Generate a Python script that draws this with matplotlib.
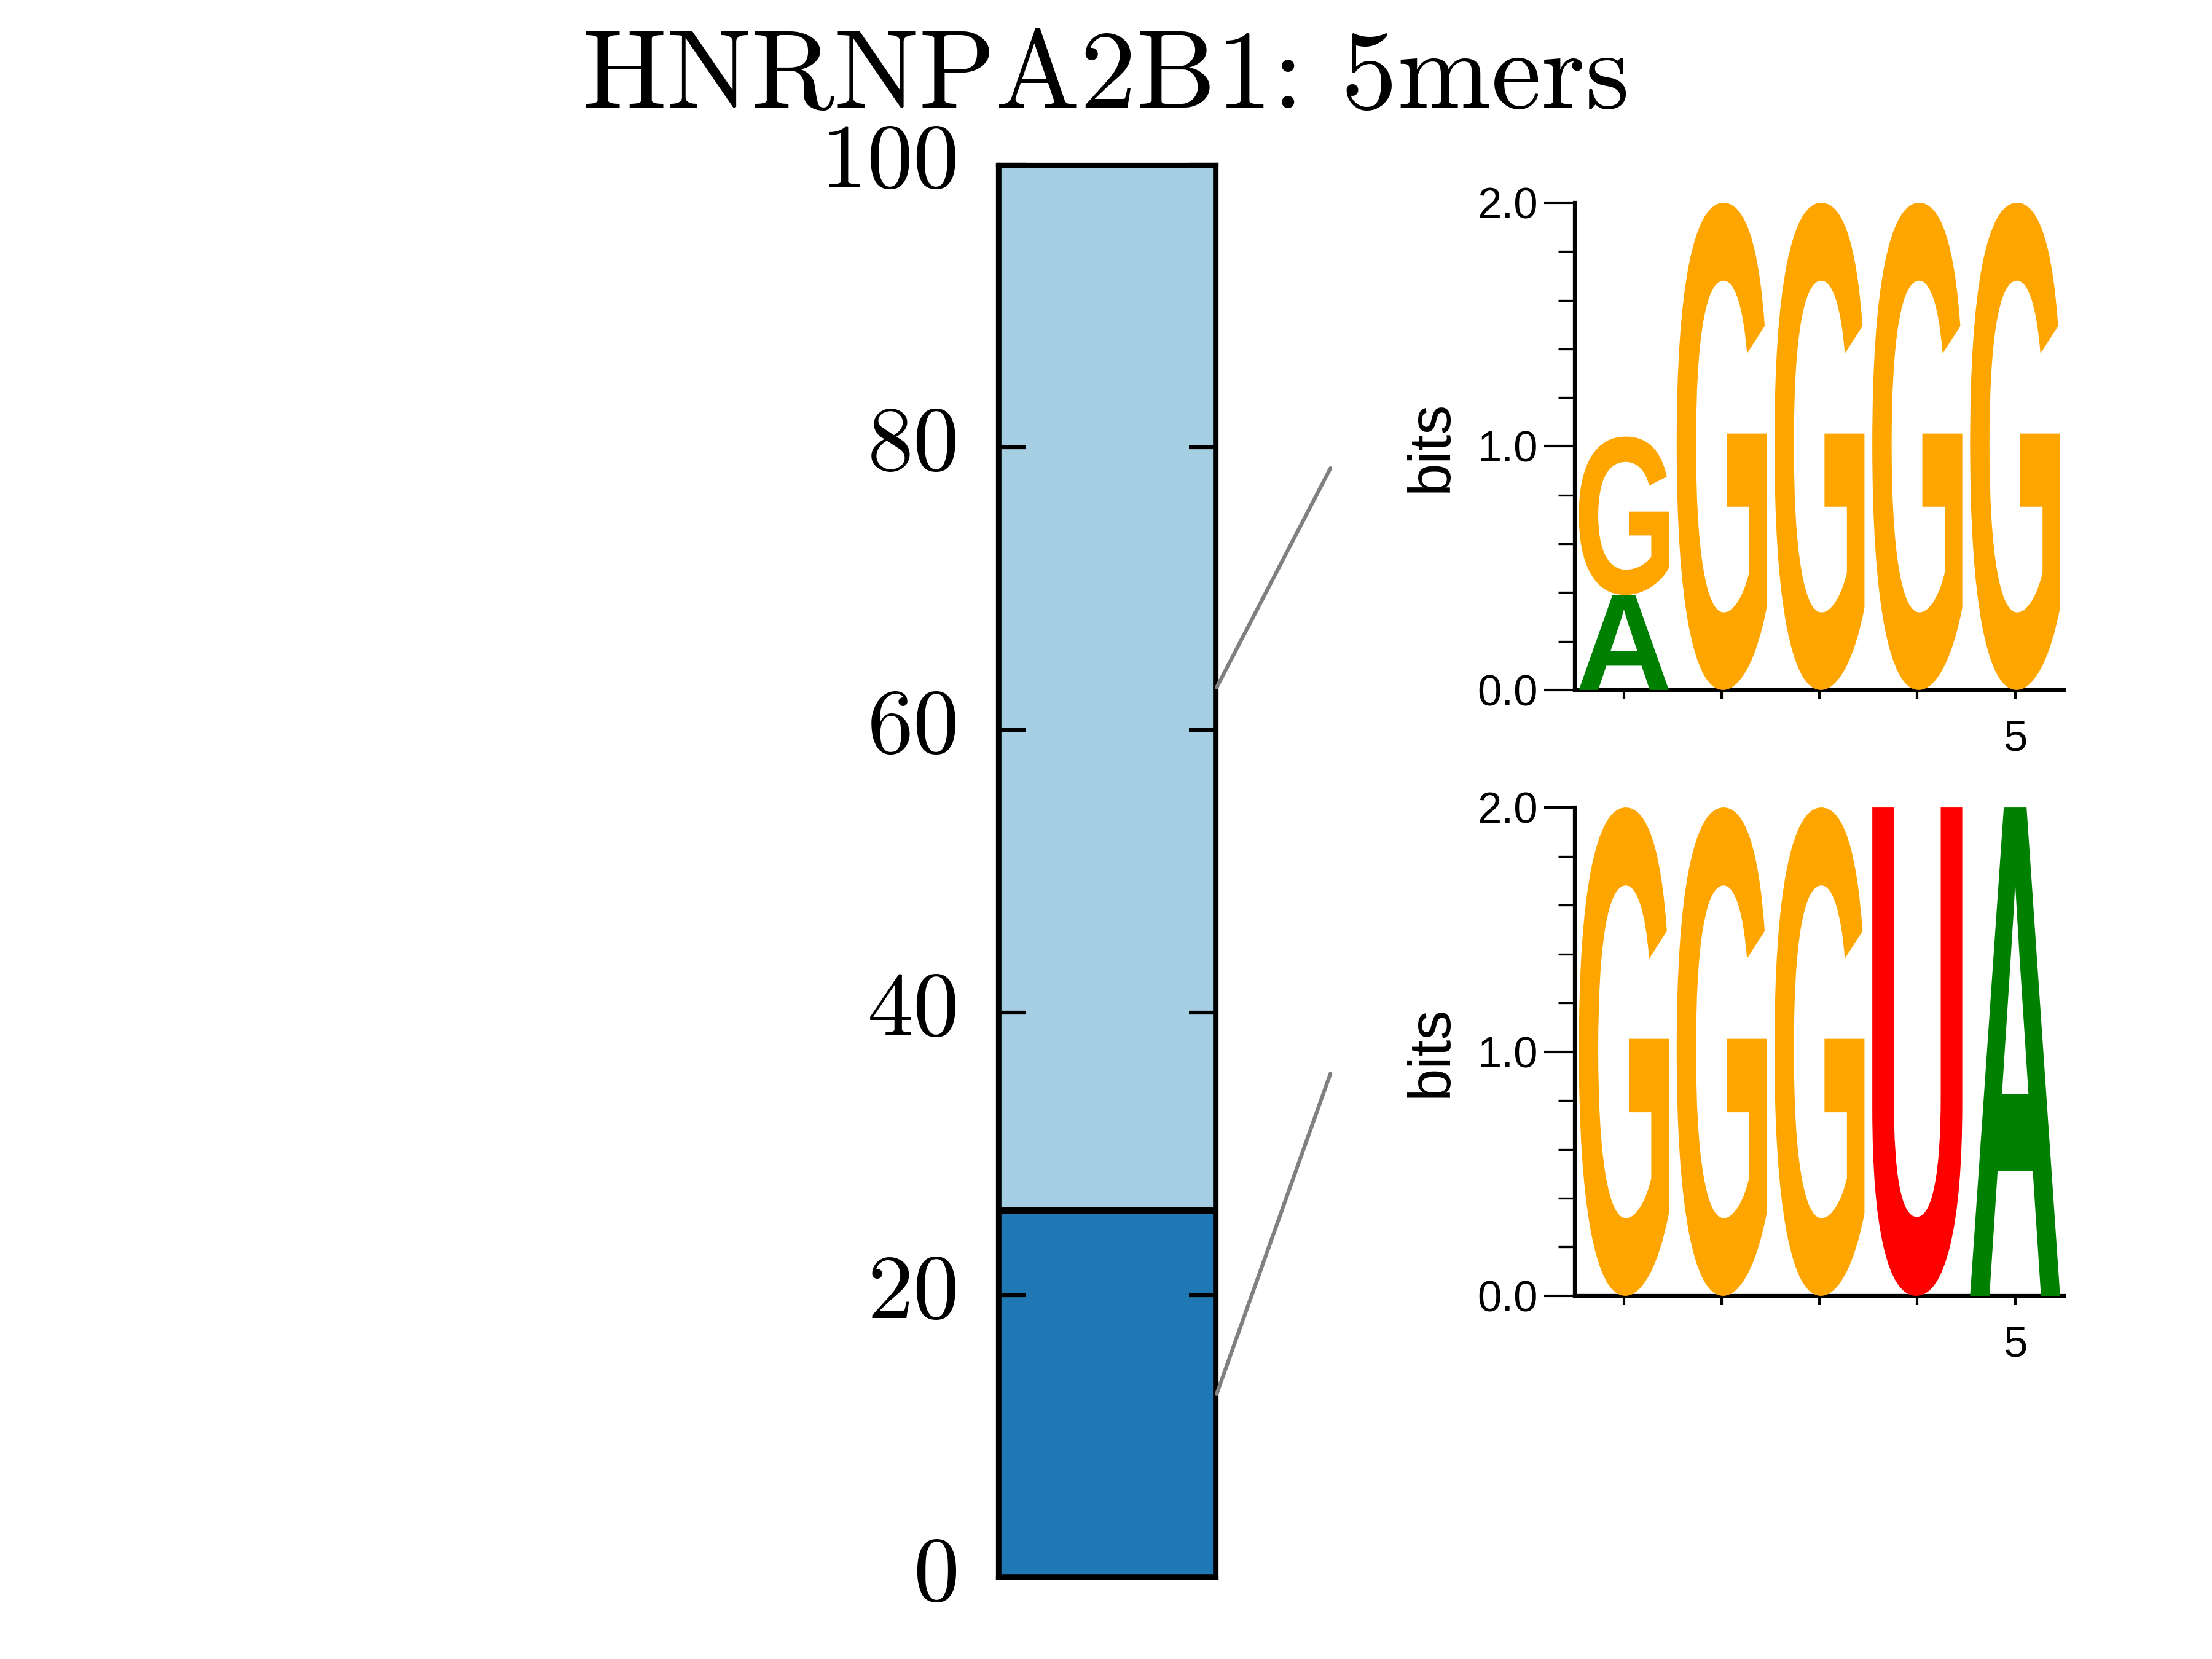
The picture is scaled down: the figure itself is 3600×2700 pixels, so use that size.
import matplotlib
matplotlib.use('Agg')
import matplotlib.pyplot as plt
from matplotlib.font_manager import FontProperties
from matplotlib.textpath import TextPath
from matplotlib.patches import PathPatch, ConnectionPatch
from matplotlib.transforms import Affine2D
from matplotlib.ticker import MultipleLocator

TITLE = 'HNRNPA2B1: 5mers'

# stacked bar: share of 5mers per cluster (percent), bottom segment first
cluster_share = [26, 74]
cluster_colors = ['#1f78b4', '#a6cee3']
bar_ticks = [0, 20, 40, 60, 80, 100]

# sequence logos, one per cluster (bits per letter, stacked bottom -> top)
logo_positions = [1, 2, 3, 4, 5]
logo_xticklabels = ['', '', '', '', '5']
upper_letters = [['A', 'G'], ['G'], ['G'], ['G'], ['G']]
upper_bits = [[0.39, 0.65], [2.0], [2.0], [2.0], [2.0]]
lower_letters = [['G'], ['G'], ['G'], ['U'], ['A']]
lower_bits = [[2.0], [2.0], [2.0], [2.0], [2.0]]
bits_ticks = [0.0, 1.0, 2.0]

BASE_COLORS = {'A': '#008000', 'C': '#0000ff', 'G': '#ffa500', 'U': '#ff0000'}
LOGO_FONT = FontProperties(family='Liberation Sans', weight='bold')
SANS = 'Liberation Sans'
SERIF = 'cmr10'

plt.rcParams['axes.formatter.use_mathtext'] = True


def draw_letter(ax, ch, x, y0, h, width=0.92):
    tp = TextPath((0, 0), ch, size=1, prop=LOGO_FONT)
    bb = tp.get_extents()
    t = Affine2D().translate(-bb.x0, -bb.y0) \
        .scale(width / bb.width, h / bb.height) \
        .translate(x - width / 2.0, y0)
    ax.add_patch(PathPatch(t.transform_path(tp), facecolor=BASE_COLORS[ch],
                           edgecolor='none', zorder=3))


def plot_logo(ax, letters, bits):
    for pos, chars, heights in zip(logo_positions, letters, bits):
        y0 = 0.0
        for ch, h in zip(chars, heights):
            draw_letter(ax, ch, pos, y0, h)
            y0 += h
    ax.set_xlim(0.5, 5.5)
    ax.set_ylim(0, 2)
    ax.set_xticks(logo_positions)
    ax.set_xticklabels(logo_xticklabels, fontsize=17, family=SANS)
    ax.set_yticks(bits_ticks)
    ax.set_yticklabels(['%.1f' % v for v in bits_ticks], fontsize=17, family=SANS)
    ax.yaxis.set_minor_locator(MultipleLocator(0.2))
    ax.tick_params(axis='y', which='major', direction='out', length=12, width=1.0, pad=2.5)
    ax.tick_params(axis='y', which='minor', direction='out', length=6.5, width=0.8)
    ax.tick_params(axis='x', which='major', direction='out', length=3.5, width=1.0, pad=8)
    for s in ['top', 'right']:
        ax.spines[s].set_visible(False)
    for s in ['left', 'bottom']:
        ax.spines[s].set_linewidth(1.5)
    ax.set_ylabel('bits', fontsize=23, family=SANS, labelpad=7)


fig = plt.figure(figsize=(12, 9), dpi=300)

# stacked bar
ax_bar = fig.add_axes([0.4511, 0.0489, 0.0989, 0.8519])
bottom = 0
mids = []
for share, color in zip(cluster_share, cluster_colors):
    ax_bar.bar(0, share, bottom=bottom, width=1.0, color=color,
               edgecolor='black', linewidth=2.8)
    mids.append(bottom + share / 2.0)
    bottom += share
ax_bar.set_axisbelow(False)
ax_bar.set_xlim(-0.5, 0.5)
ax_bar.set_ylim(0, 100)
ax_bar.set_xticks([])
ax_bar.set_yticks(bar_ticks)
ax_bar.set_yticklabels([str(t) for t in bar_ticks], fontsize=36, family=SERIF)
for lab in ax_bar.get_yticklabels():
    lab.set_verticalalignment('center')
ax_bar.tick_params(axis='y', direction='in', left=True, right=True,
                   length=10.8, width=1.5, pad=15)
for s in ax_bar.spines.values():
    s.set_linewidth(1.5)

# logos
ax_upper = fig.add_axes([0.712, 0.5841, 0.2211, 0.2937])
plot_logo(ax_upper, upper_letters, upper_bits)
ax_lower = fig.add_axes([0.712, 0.2189, 0.2211, 0.2944])
plot_logo(ax_lower, lower_letters, lower_bits)

# connectors from bar segments to logos
for mid, ax_logo in zip(mids, [ax_lower, ax_upper]):
    con = ConnectionPatch(xyA=(0.5, mid), coordsA=ax_bar.transData,
                          xyB=(-0.5, 0.455), coordsB=ax_logo.transAxes,
                          color='#808080', linewidth=1.5)
    fig.add_artist(con)

fig.text(0.5, 0.935, TITLE, ha='center', va='baseline', fontsize=44, family=SERIF)

fig.savefig('out.png', dpi=300)
